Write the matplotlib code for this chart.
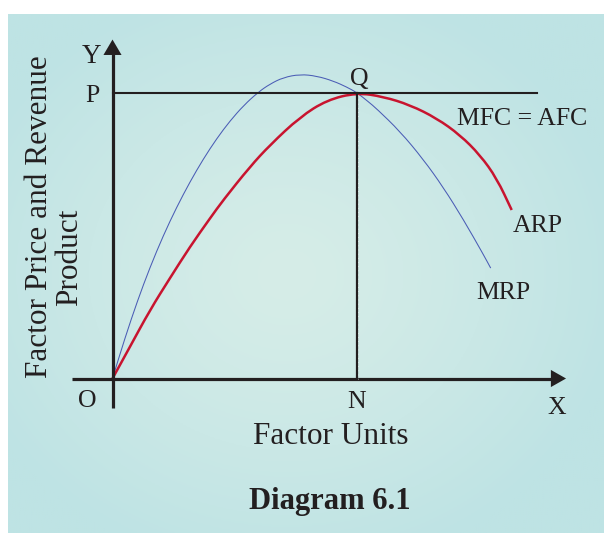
import numpy as np
import matplotlib.pyplot as plt
from matplotlib.path import Path
from matplotlib.patches import PathPatch

# curve readings (x: factor units, N = 10 ; y: price, P = 10)
arp_x = [0, 0.716, 1.534, 2.352, 3.170, 3.988, 4.532, 5.624, 6.442, 7.669, 8.773, 10.0,
         11.076, 12.168, 13.260, 14.213, 15.031, 15.714, 16.327]
arp_y = [0, 1.113, 2.397, 3.516, 4.612, 5.605, 6.246, 7.411, 8.170, 9.150, 9.745, 10.0,
         9.860, 9.570, 9.104, 8.520, 7.820, 7.005, 5.896]

mrp_x = [0, 0.511, 1.022, 1.534, 2.078, 2.626, 3.170, 3.714, 4.262, 4.806, 5.378, 5.963,
         6.442, 6.986, 7.669, 8.352, 9.031, 9.579, 10.0, 10.462, 10.806, 11.759, 12.712,
         13.530, 14.348, 15.166, 15.468]
mrp_y = [0, 1.421, 2.719, 3.891, 5.003, 5.997, 6.882, 7.680, 8.394, 9.013, 9.566, 10.02,
         10.304, 10.532, 10.644, 10.584, 10.409, 10.199, 10.0, 9.685, 9.437, 8.646, 7.666,
         6.687, 5.567, 4.342, 3.863]

p_level = 10.0
n_level = 10.0

W, H = 604, 535
fig = plt.figure(figsize=(W / 100, H / 100), dpi=100)
fig.patch.set_facecolor("white")

# background panel with soft radial gradient
bg = fig.add_axes([8 / W, 2 / H, (W - 8) / W, 519 / H])
bg.set_axis_off()
yy, xx = np.mgrid[0:260, 0:300]
r = np.sqrt(((xx - 140) / 170.0) ** 2 + ((yy - 130) / 150.0) ** 2)
t = np.clip(r, 0, 1) ** 1.3
c_in = np.array([214, 237, 232]) / 255
c_out = np.array([190, 227, 228]) / 255
img = c_in[None, None, :] * (1 - t[..., None]) + c_out[None, None, :] * t[..., None]
bg.imshow(img, aspect="auto", extent=[0, 1, 0, 1])

ax = fig.add_axes([0, 0, 1, 1])
ax.patch.set_alpha(0)
ax.set_axis_off()
ox, oy = 112.5, 378.5
sx, sy = 24.45, 28.58
ax.set_xlim(-ox / sx, (W - ox) / sx)
ax.set_ylim((oy - H) / sy, oy / sy)

ink = "#231f20"


def smooth_curve(xs, ys, **kw):
    # quadratic bezier through midpoints so the line has no corners
    pts = np.column_stack([xs, ys])
    verts = [pts[0], (pts[0] + pts[1]) / 2]
    codes = [Path.MOVETO, Path.LINETO]
    for i in range(1, len(pts) - 1):
        verts += [pts[i], (pts[i] + pts[i + 1]) / 2]
        codes += [Path.CURVE3, Path.CURVE3]
    verts.append(pts[-1])
    codes.append(Path.LINETO)
    ax.add_patch(PathPatch(Path(verts, codes), fill=False, capstyle="butt", **kw))


# axes with arrowheads
ax.plot([0, 0], [-1.03, 11.35], color=ink, lw=2.3, solid_capstyle="butt")
ax.fill([-0.37, 0.37, 0], [11.32, 11.32, 11.86], color=ink, lw=0)
ax.plot([-1.66, 17.95], [0, 0], color=ink, lw=2.3, solid_capstyle="butt")
ax.fill([17.93, 17.93, 18.55], [-0.3, 0.3, 0], color=ink, lw=0)

# P line and vertical through Q
ax.plot([0, 17.36], [p_level, p_level], color=ink, lw=1.5)
ax.plot([n_level, n_level], [0, p_level], color=ink, lw=1.6)
ax.plot([n_level + 0.03, n_level + 0.03], [0, p_level], color="white", lw=0.5,
        linestyle=(0, (1, 5)))

smooth_curve(mrp_x, mrp_y, edgecolor="#4a5cb5", lw=0.75)
smooth_curve(arp_x, arp_y, edgecolor="#c8142f", lw=1.8)

serif = "Liberation Serif"
fs = 18.5
ax.text(-0.84, 11.04, "Y", fontsize=19.5, family=serif, color=ink, ha="center", va="baseline")
ax.text(-0.84, 9.675, "P", fontsize=fs, family=serif, color=ink, ha="center", va="baseline")
ax.text(10.08, 10.27, "Q", fontsize=fs, family=serif, color=ink, ha="center", va="baseline")
ax.text(-1.04, -1.0, "O", fontsize=fs, family=serif, color=ink, ha="center", va="baseline")
ax.text(10.0, -1.03, "N", fontsize=fs, family=serif, color=ink, ha="center", va="baseline")
ax.text(18.16, -1.24, "X", fontsize=fs, family=serif, color=ink, ha="center", va="baseline")
ax.text(16.75, 8.87, "MFC = AFC", fontsize=fs, family=serif, color=ink, ha="center", va="baseline")
ax.text(17.38, 5.13, "ARP", fontsize=fs, family=serif, color=ink, ha="center", va="baseline")
ax.text(15.97, 2.78, "MRP", fontsize=fs, family=serif, color=ink, ha="center", va="baseline")

ax.text(8.94, -2.29, "Factor Units", fontsize=22.5, family=serif, color=ink,
        ha="center", va="baseline")
ax.text(-2.68, 5.65, "Factor Price and Revenue", fontsize=22.5, family=serif, color=ink,
        rotation=90, rotation_mode="anchor", ha="center", va="baseline")
ax.text(-1.45, 4.25, "Product", fontsize=22.5, family=serif, color=ink,
        rotation=90, rotation_mode="anchor", ha="center", va="baseline")
ax.text(8.9, -4.57, "Diagram 6.1", fontsize=22, family=serif, weight="bold", color=ink,
        ha="center", va="baseline")

fig.savefig("out.png", dpi=100)
